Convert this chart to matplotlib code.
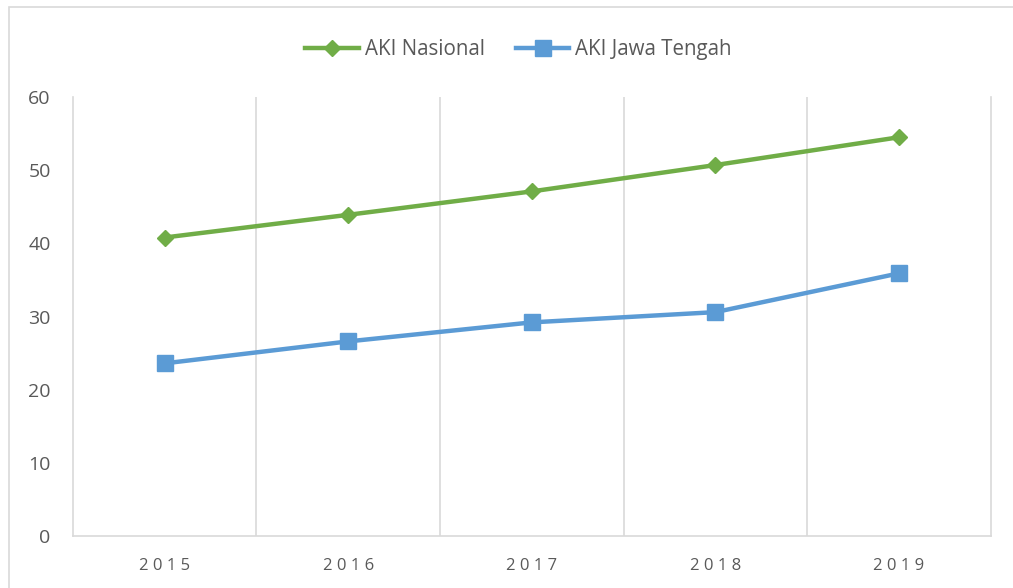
import matplotlib.pyplot as plt
from matplotlib.patches import Rectangle

years = ["2015", "2016", "2017", "2018", "2019"]
aki_nasional = [40.8, 43.9, 47.1, 50.7, 54.5]
aki_jateng = [23.6, 26.6, 29.2, 30.6, 35.9]

plt.rcParams['font.family'] = ['Open Sans', 'DejaVu Sans']
text_color = "#595959"
grid_color = "#d9d9d9"

fig = plt.figure(figsize=(10.13, 5.88), dpi=100)
ax = fig.add_axes([0.072, 0.0884, 0.906, 0.7466])

# outer chart border
fig.patches.append(Rectangle((9 / 1013, -0.01), 1.0, 1 - 7 / 588 + 0.01,
                             transform=fig.transFigure, fill=False,
                             edgecolor=grid_color, linewidth=1.2))

x = range(len(years))
ax.plot(x, aki_nasional, color="#70ad47", linewidth=3.2, marker="D",
        markersize=8, label="AKI Nasional")
ax.plot(x, aki_jateng, color="#5b9bd5", linewidth=3.2, marker="s",
        markersize=11, label="AKI Jawa Tengah")

ax.set_xlim(-0.5, len(years) - 0.5)
ax.set_ylim(0, 60)
ax.set_yticks(range(0, 61, 10))
ax.set_xticks(list(x))
# spaced-out year labels, like the original
ax.set_xticklabels([" ".join(y) for y in years])
ax.set_xticks([i + 0.5 for i in range(len(years) - 1)], minor=True)
ax.grid(True, which="minor", axis="x", color=grid_color, linewidth=1.2)
ax.tick_params(which="both", length=0)
ax.tick_params(axis="y", labelsize=14, labelcolor=text_color, pad=16)
ax.tick_params(axis="x", labelsize=12, labelcolor=text_color, pad=16)

for side in ["left", "right", "bottom"]:
    ax.spines[side].set_color(grid_color)
    ax.spines[side].set_linewidth(1.2)
ax.spines["top"].set_visible(False)

fig.legend(loc="upper center", bbox_to_anchor=(0.512, 0.965), ncol=2,
           frameon=False, fontsize=14.8, labelcolor=text_color,
           handlelength=2.6, columnspacing=1.5, handletextpad=0.3)

fig.savefig("out.png", dpi=100)
